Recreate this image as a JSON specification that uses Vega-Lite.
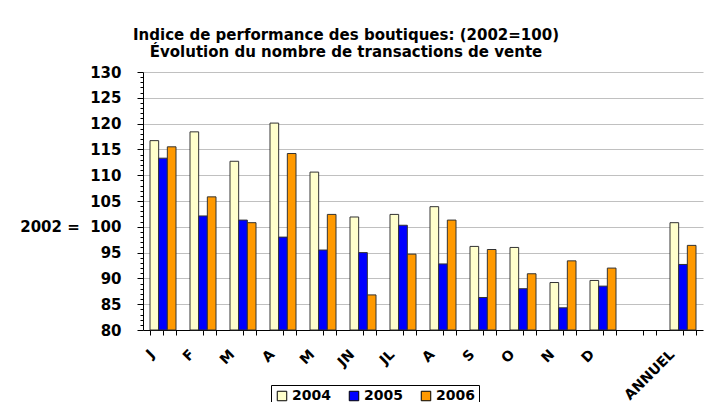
{
  "$schema": "https://vega.github.io/schema/vega-lite/v6.json",
  "width": 560,
  "height": 258,
  "autosize": {"type": "none"},
  "padding": {"left": 143, "top": 72, "right": 3, "bottom": 72},
  "background": "white",
  "title": {
    "text": ["Indice de performance des boutiques: (2002=100)", "Évolution du nombre de transactions de vente"],
    "font": "DejaVu Sans",
    "fontSize": 15,
    "fontWeight": "bold",
    "lineHeight": 17,
    "anchor": "middle",
    "frame": "group",
    "dx": -77,
    "offset": 5,
    "color": "black"
  },
  "config": {
    "font": "DejaVu Sans",
    "view": {"stroke": null},
    "axis": {"labelFont": "DejaVu Sans", "labelFontWeight": "bold", "labelColor": "black", "domainColor": "black", "tickColor": "black"}
  },
  "data": {
    "values": [
      {"cle": "1", "annee": "2004", "valeur": 116.7},
      {"cle": "1", "annee": "2005", "valeur": 113.3},
      {"cle": "1", "annee": "2006", "valeur": 115.5},
      {"cle": "2", "annee": "2004", "valeur": 118.4},
      {"cle": "2", "annee": "2005", "valeur": 102.1},
      {"cle": "2", "annee": "2006", "valeur": 105.8},
      {"cle": "3", "annee": "2004", "valeur": 112.7},
      {"cle": "3", "annee": "2005", "valeur": 101.3},
      {"cle": "3", "annee": "2006", "valeur": 100.8},
      {"cle": "4", "annee": "2004", "valeur": 120.1},
      {"cle": "4", "annee": "2005", "valeur": 98.0},
      {"cle": "4", "annee": "2006", "valeur": 114.2},
      {"cle": "5", "annee": "2004", "valeur": 110.6},
      {"cle": "5", "annee": "2005", "valeur": 95.5},
      {"cle": "5", "annee": "2006", "valeur": 102.4},
      {"cle": "6", "annee": "2004", "valeur": 101.9},
      {"cle": "6", "annee": "2005", "valeur": 95.0},
      {"cle": "6", "annee": "2006", "valeur": 86.8},
      {"cle": "7", "annee": "2004", "valeur": 102.4},
      {"cle": "7", "annee": "2005", "valeur": 100.3},
      {"cle": "7", "annee": "2006", "valeur": 94.7},
      {"cle": "8", "annee": "2004", "valeur": 103.9},
      {"cle": "8", "annee": "2005", "valeur": 92.8},
      {"cle": "8", "annee": "2006", "valeur": 101.3},
      {"cle": "9", "annee": "2004", "valeur": 96.2},
      {"cle": "9", "annee": "2005", "valeur": 86.3},
      {"cle": "9", "annee": "2006", "valeur": 95.6},
      {"cle": "10", "annee": "2004", "valeur": 96.0},
      {"cle": "10", "annee": "2005", "valeur": 88.0},
      {"cle": "10", "annee": "2006", "valeur": 90.9},
      {"cle": "11", "annee": "2004", "valeur": 89.2},
      {"cle": "11", "annee": "2005", "valeur": 84.3},
      {"cle": "11", "annee": "2006", "valeur": 93.4},
      {"cle": "12", "annee": "2004", "valeur": 89.6},
      {"cle": "12", "annee": "2005", "valeur": 88.5},
      {"cle": "12", "annee": "2006", "valeur": 92.0},
      {"cle": "14", "annee": "2004", "valeur": 100.8},
      {"cle": "14", "annee": "2005", "valeur": 92.7},
      {"cle": "14", "annee": "2006", "valeur": 96.4}
    ]
  },
  "layer": [
    {
      "mark": {"type": "bar", "stroke": "#333333", "strokeWidth": 1},
      "encoding": {
        "x": {
          "field": "cle",
          "type": "nominal",
          "scale": {"domain": ["1","2","3","4","5","6","7","8","9","10","11","12","13","14"], "paddingInner": 0.35, "paddingOuter": 0.175},
          "axis": {
            "title": null,
            "tickBand": "extent",
            "tickSize": 5,
            "labelAngle": -45,
            "labelAlign": "right",
            "labelBaseline": "middle",
            "labelFontSize": 14,
            "labelPadding": 17,
            "labelOffset": -11,
            "labelExpr": "['J','F','M','A','M','JN','JL','A','S','O','N','D','','ANNUEL'][toNumber(datum.value) - 1]",
            "grid": false
          }
        },
        "xOffset": {"field": "annee", "type": "nominal", "scale": {"paddingInner": 0, "paddingOuter": 0}},
        "y": {
          "field": "valeur",
          "type": "quantitative",
          "scale": {"domain": [80, 130], "zero": false, "nice": false},
          "axis": {
            "title": null,
            "values": [80,81,82,83,84,85,86,87,88,89,90,91,92,93,94,95,96,97,98,99,100,101,102,103,104,105,106,107,108,109,110,111,112,113,114,115,116,117,118,119,120,121,122,123,124,125,126,127,128,129,130],
            "labelOverlap": false,
            "labelBound": false,
            "labelFlush": false,
            "labelFontSize": 15,
            "labelPadding": 16,
            "tickSize": {"condition": {"test": "datum.value % 5 == 0", "value": 6}, "value": 3},
            "grid": true,
            "gridColor": "#c0c0c0",
            "gridOpacity": {"condition": {"test": "datum.value % 5 == 0 && datum.value > 80", "value": 1}, "value": 0},
            "labelExpr": "datum.value % 5 != 0 ? '' : (datum.value == 100 ? '2002 =\u00a0\u00a0100' : datum.label)"
          }
        },
        "y2": {"datum": 80},
        "color": {
          "field": "annee",
          "type": "nominal",
          "scale": {"domain": ["2004", "2005", "2006"], "range": ["#FFFFCC", "#0000FF", "#FF9900"]},
          "legend": {
            "title": null,
            "orient": "none",
            "legendX": 128,
            "legendY": 313,
            "direction": "horizontal",
            "symbolType": "square",
            "symbolSize": 90,
            "symbolStrokeColor": "black",
            "symbolStrokeWidth": 1,
            "symbolOpacity": 1,
            "labelFont": "DejaVu Sans",
            "labelFontWeight": "bold",
            "labelFontSize": 14,
            "labelColor": "black",
            "labelOffset": 3,
            "columnPadding": 16,
            "strokeColor": "black",
            "padding": 4
          }
        }
      }
    },
    {
      "mark": {"type": "point", "opacity": 0},
      "encoding": {
        "x": {
          "field": "cle",
          "type": "nominal",
          "axis": {"orient": "bottom", "title": null, "labels": false, "domain": false, "grid": false, "tickSize": 5, "tickColor": "black", "tickWidth": 1}
        }
      }
    }
  ],
  "resolve": {"axis": {"x": "independent"}}
}
